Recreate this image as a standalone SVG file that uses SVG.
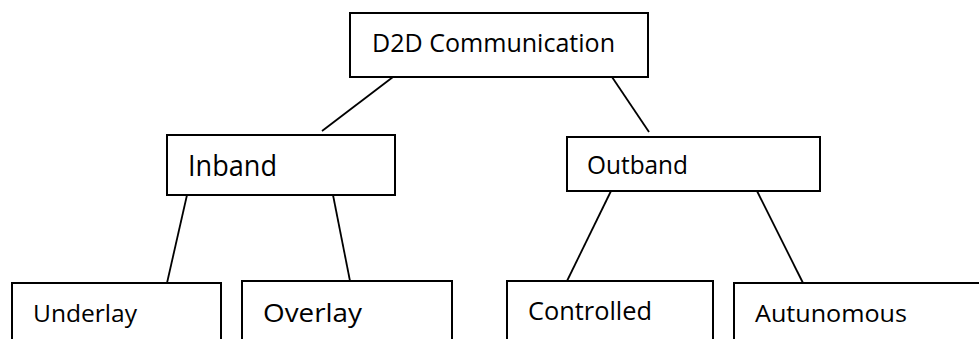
<svg xmlns="http://www.w3.org/2000/svg" width="979" height="339" viewBox="0 0 979 339">
<style>
.box{fill:#fff;stroke:#000;stroke-width:2}
.ln{stroke:#000;stroke-width:1.8;fill:none}
text{font-family:"Open Sans","Noto Sans","DejaVu Sans",sans-serif;fill:#000}
</style>
<rect width="979" height="339" fill="#fff"/>
<g id="connectors">
<line class="ln" x1="393" y1="77" x2="322" y2="131"/>
<line class="ln" x1="612" y1="77" x2="649" y2="132"/>
<line class="ln" x1="187" y1="195" x2="167" y2="283"/>
<line class="ln" x1="333" y1="195" x2="350" y2="281"/>
<line class="ln" x1="611" y1="191" x2="567" y2="281"/>
<line class="ln" x1="757" y1="191" x2="803" y2="283"/>
</g>
<g id="d2d">
<rect class="box" x="350" y="13" width="298" height="64"/>
<text x="372" y="52" font-size="25" textLength="243" lengthAdjust="spacingAndGlyphs">D2D Communication</text>
</g>
<g id="inband">
<rect class="box" x="167" y="135" width="228" height="60"/>
<text x="188" y="176" font-size="29" textLength="89" lengthAdjust="spacingAndGlyphs">Inband</text>
</g>
<g id="outband">
<rect class="box" x="567" y="137" width="253" height="54"/>
<text x="587" y="174" font-size="25" textLength="101" lengthAdjust="spacingAndGlyphs">Outband</text>
</g>
<g id="underlay">
<rect class="box" x="12" y="283" width="209" height="70"/>
<text x="33" y="322" font-size="24" textLength="104" lengthAdjust="spacingAndGlyphs">Underlay</text>
</g>
<g id="overlay">
<rect class="box" x="242" y="281" width="210" height="72"/>
<text x="263" y="322" font-size="26" textLength="99" lengthAdjust="spacingAndGlyphs">Overlay</text>
</g>
<g id="controlled">
<rect class="box" x="507" y="281" width="206" height="72"/>
<text x="528" y="320" font-size="25" textLength="124" lengthAdjust="spacingAndGlyphs">Controlled</text>
</g>
<g id="autunomous">
<rect class="box" x="734" y="283" width="260" height="70"/>
<text x="755" y="322" font-size="24" textLength="152" lengthAdjust="spacingAndGlyphs">Autunomous</text>
</g>
</svg>
